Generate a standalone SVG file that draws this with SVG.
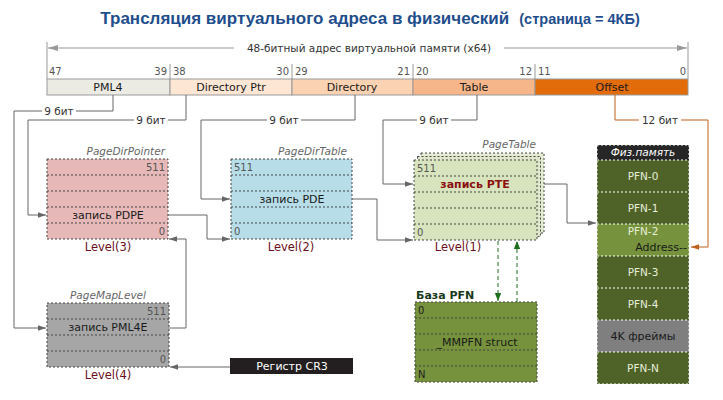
<svg xmlns="http://www.w3.org/2000/svg" width="723" height="400" viewBox="0 0 723 400">
<defs>
<style>
text{font-family:"DejaVu Sans",Verdana,sans-serif;font-size:11px;fill:#1a1a1a}
.title{font-family:"Liberation Sans",Arial,sans-serif;font-weight:bold;fill:#1f4e8c;font-size:17px}
.small{font-size:10.5px;fill:#333}
.num{font-size:10px;fill:#555}
.tt{font-style:italic;fill:#666;font-size:10.5px}
.lvl{fill:#6b1020;font-size:11.5px}
.tbl{stroke:#444;stroke-width:1;stroke-dasharray:2,2}
.div{stroke:#444;stroke-width:1;stroke-dasharray:2,2}
.wdiv{stroke:#fff;stroke-width:1;stroke-dasharray:2,2}
.conn{fill:none;stroke:#666;stroke-width:1}
.lbl{fill:#fff}
.pfn{fill:#e6eed8;font-size:10.5px}
</style>
<marker id="ah" viewBox="0 0 10 10" refX="10" refY="5" markerWidth="10" markerHeight="8" markerUnits="userSpaceOnUse" orient="auto"><path d="M0,1.5 L10,5 L0,8.5 z" fill="#666"/></marker>
<marker id="aho" viewBox="0 0 10 10" refX="10" refY="5" markerWidth="10" markerHeight="8" markerUnits="userSpaceOnUse" orient="auto"><path d="M0,1.5 L10,5 L0,8.5 z" fill="#c0601a"/></marker>
<marker id="ahg" viewBox="0 0 10 10" refX="10" refY="5" markerWidth="8" markerHeight="9" markerUnits="userSpaceOnUse" orient="auto"><path d="M0,1 L10,5 L0,9 z" fill="#1e6e1e"/></marker>
</defs>
<rect width="723" height="400" fill="#fff"/>

<text class="title" x="370" y="24" text-anchor="middle">Трансляция виртуального адреса в физический<tspan dx="10" font-size="14.5px">(страница = 4КБ)</tspan></text>

<g id="address-bar">
<line x1="47" y1="42" x2="47" y2="79" stroke="#999"/>
<line x1="688" y1="42" x2="688" y2="79" stroke="#999"/>
<line x1="48" y1="48" x2="234" y2="48" stroke="#999"/>
<path d="M48,48 L58,45 L58,51 z" fill="#999"/>
<line x1="504" y1="48" x2="687" y2="48" stroke="#999"/>
<path d="M687,48 L677,45 L677,51 z" fill="#999"/>
<text class="small" x="369" y="52" text-anchor="middle">48-битный адрес виртуальной памяти (x64)</text>
<g stroke="#999">
<line x1="170" y1="64" x2="170" y2="79"/>
<line x1="292" y1="64" x2="292" y2="79"/>
<line x1="413" y1="64" x2="413" y2="79"/>
<line x1="535" y1="64" x2="535" y2="79"/>
</g>
<text class="num" x="49" y="75">47</text>
<text class="num" x="167" y="75" text-anchor="end">39</text>
<text class="num" x="173" y="75">38</text>
<text class="num" x="289" y="75" text-anchor="end">30</text>
<text class="num" x="295" y="75">29</text>
<text class="num" x="410" y="75" text-anchor="end">21</text>
<text class="num" x="416" y="75">20</text>
<text class="num" x="532" y="75" text-anchor="end">12</text>
<text class="num" x="538" y="75">11</text>
<text class="num" x="686" y="75" text-anchor="end">0</text>
<rect x="47" y="79" width="123" height="16" fill="#ebebe4" stroke="#999"/>
<rect x="170" y="79" width="122" height="16" fill="#fde6d4" stroke="#999"/>
<rect x="292" y="79" width="121" height="16" fill="#fbd3b3" stroke="#999"/>
<rect x="413" y="79" width="122" height="16" fill="#f6b689" stroke="#999"/>
<rect x="535" y="79" width="153" height="16" fill="#e36c0a" stroke="#999"/>
<text x="108" y="91" text-anchor="middle">PML4</text>
<text x="231" y="91" text-anchor="middle">Directory Ptr</text>
<text x="352" y="91" text-anchor="middle">Directory</text>
<text x="474" y="91" text-anchor="middle">Table</text>
<text x="612" y="91" text-anchor="middle">Offset</text>
</g>

<g id="connectors">
<path class="conn" d="M113,95 V111 H14 V328 H46" marker-end="url(#ah)"/>
<path class="conn" d="M186,95 V120 H28 V215 H46" marker-end="url(#ah)"/>
<path class="conn" d="M355,95 V120 H201 V199 H230" marker-end="url(#ah)"/>
<path class="conn" d="M477,95 V120 H383 V184 H413" marker-end="url(#ah)"/>
<path d="M615,95 V120 H708 V247 H691" fill="none" stroke="#c0601a" marker-end="url(#aho)"/>
<path class="conn" d="M168,215 H207 V239 H230" marker-end="url(#ah)"/>
<path class="conn" d="M352,199 H377 V240 H413" marker-end="url(#ah)"/>
<path class="conn" d="M537,184 H567 V223 H596" marker-end="url(#ah)"/>
<path class="conn" d="M169,328 H186 V239 H169" marker-end="url(#ah)"/>
<path class="conn" d="M230,367 H170" marker-end="url(#ah)"/>
<path d="M498,241 V301" fill="none" stroke="#1e6e1e" stroke-dasharray="4,3" marker-end="url(#ahg)"/>
<path d="M517,302 V241" fill="none" stroke="#1e6e1e" stroke-dasharray="4,3" marker-end="url(#ahg)"/>
<rect x="42" y="104" width="34" height="14" class="lbl"/>
<text class="small" x="59" y="115" text-anchor="middle">9 бит</text>
<rect x="134" y="113" width="34" height="14" class="lbl"/>
<text class="small" x="151" y="124" text-anchor="middle">9 бит</text>
<rect x="267" y="113" width="34" height="14" class="lbl"/>
<text class="small" x="284" y="124" text-anchor="middle">9 бит</text>
<rect x="417" y="113" width="34" height="14" class="lbl"/>
<text class="small" x="434" y="124" text-anchor="middle">9 бит</text>
<rect x="639" y="113" width="42" height="14" class="lbl"/>
<text class="small" x="660" y="124" text-anchor="middle">12 бит</text>
</g>

<g id="pagedirpointer">
<text class="tt" x="165" y="155" text-anchor="end">PageDirPointer</text>
<rect class="tbl" x="47" y="159" width="121" height="80" fill="#e6b8b7"/>
<line class="div" x1="47" y1="175" x2="168" y2="175"/>
<line class="div" x1="47" y1="191" x2="168" y2="191"/>
<line class="div" x1="47" y1="207" x2="168" y2="207"/>
<line class="div" x1="47" y1="223" x2="168" y2="223"/>
<text class="num" x="165" y="171" text-anchor="end">511</text>
<text x="108" y="219" text-anchor="middle">запись PDPE</text>
<text class="num" x="165" y="235" text-anchor="end">0</text>
<text class="lvl" x="108" y="251" text-anchor="middle">Level(3)</text>
</g>

<g id="pagedirtable">
<text class="tt" x="347" y="155" text-anchor="end">PageDirTable</text>
<rect class="tbl" x="231" y="159" width="121" height="80" fill="#b7dde8"/>
<line class="div" x1="231" y1="175" x2="352" y2="175"/>
<line class="div" x1="231" y1="191" x2="352" y2="191"/>
<line class="div" x1="231" y1="207" x2="352" y2="207"/>
<line class="div" x1="231" y1="223" x2="352" y2="223"/>
<text class="num" x="234" y="171">511</text>
<text x="292" y="203" text-anchor="middle">запись PDE</text>
<text class="num" x="234" y="235">0</text>
<text class="lvl" x="291" y="251" text-anchor="middle">Level(2)</text>
</g>

<g id="pagetable">
<text class="tt" x="536" y="148" text-anchor="end">PageTable</text>
<rect class="tbl" x="421" y="153" width="123" height="80" fill="#e4ebd3"/>
<rect class="tbl" x="417.5" y="156.5" width="123" height="80" fill="#dfe7cb"/>
<rect class="tbl" x="414" y="160" width="123" height="80" fill="#d7e4bd"/>
<line class="div" x1="414" y1="176" x2="537" y2="176"/>
<line class="div" x1="414" y1="192" x2="537" y2="192"/>
<line class="div" x1="414" y1="208" x2="537" y2="208"/>
<line class="div" x1="414" y1="224" x2="537" y2="224"/>
<text class="num" x="417" y="172">511</text>
<text x="475" y="188" text-anchor="middle" style="fill:#8b1010;font-weight:bold">запись PTE</text>
<text class="num" x="417" y="236">0</text>
<text class="lvl" x="458" y="251" text-anchor="middle">Level(1)</text>
</g>

<g id="pagemaplevel">
<text class="tt" x="108" y="299" text-anchor="middle">PageMapLevel</text>
<rect class="tbl" x="47" y="303" width="122" height="64" fill="#a6a6a6"/>
<line class="div" x1="47" y1="319" x2="169" y2="319"/>
<line class="div" x1="47" y1="335" x2="169" y2="335"/>
<line class="div" x1="47" y1="351" x2="169" y2="351"/>
<text class="num" x="166" y="315" text-anchor="end">511</text>
<text x="108" y="331" text-anchor="middle">запись PML4E</text>
<text class="num" x="166" y="363" text-anchor="end">0</text>
<text class="lvl" x="108" y="379" text-anchor="middle">Level(4)</text>
</g>

<g id="cr3">
<rect x="230" y="358" width="123" height="16" fill="#231f20"/>
<text x="292" y="370" text-anchor="middle" style="fill:#fff">Регистр CR3</text>
</g>

<g id="pfnbase">
<text x="416" y="299" style="fill:#17371b;font-weight:bold">База PFN</text>
<rect class="tbl" x="415" y="302" width="122" height="80" fill="#76923c"/>
<line class="div" x1="415" y1="318" x2="537" y2="318"/>
<line class="div" x1="415" y1="334" x2="537" y2="334"/>
<line class="div" x1="415" y1="350" x2="537" y2="350"/>
<line class="div" x1="415" y1="366" x2="537" y2="366"/>
<text class="num" x="418" y="314" style="fill:#222">0</text>
<text x="477" y="346" text-anchor="middle">_MMPFN struct</text>
<text class="num" x="418" y="378" style="fill:#222">N</text>
</g>

<g id="physmem">
<rect x="597" y="145" width="92" height="15" fill="#262626"/>
<text x="643" y="156" text-anchor="middle" style="fill:#fff;font-size:10.5px;font-style:italic">Физ.память</text>
<rect x="597" y="160" width="92" height="224" fill="#4f6228"/>
<rect x="597" y="224" width="92" height="32" fill="#76923c"/>
<rect x="597" y="320" width="92" height="32" fill="#7f7f7f"/>
<rect x="597" y="145" width="92" height="239" fill="none" class="wdiv"/>
<line class="wdiv" x1="597" y1="160" x2="689" y2="160"/>
<line class="wdiv" x1="597" y1="192" x2="689" y2="192"/>
<line class="wdiv" x1="597" y1="224" x2="689" y2="224"/>
<line class="wdiv" x1="597" y1="256" x2="689" y2="256"/>
<line class="wdiv" x1="597" y1="288" x2="689" y2="288"/>
<line class="wdiv" x1="597" y1="320" x2="689" y2="320"/>
<line class="wdiv" x1="597" y1="352" x2="689" y2="352"/>
<text class="pfn" x="643" y="180" text-anchor="middle">PFN-0</text>
<text class="pfn" x="643" y="212" text-anchor="middle">PFN-1</text>
<text class="pfn" x="643" y="235" text-anchor="middle">PFN-2</text>
<text x="687" y="251" text-anchor="end">Address--</text>
<text class="pfn" x="643" y="276" text-anchor="middle">PFN-3</text>
<text class="pfn" x="643" y="308" text-anchor="middle">PFN-4</text>
<text x="643" y="340" text-anchor="middle">4K фреймы</text>
<text class="pfn" x="643" y="372" text-anchor="middle">PFN-N</text>
</g>
</svg>
